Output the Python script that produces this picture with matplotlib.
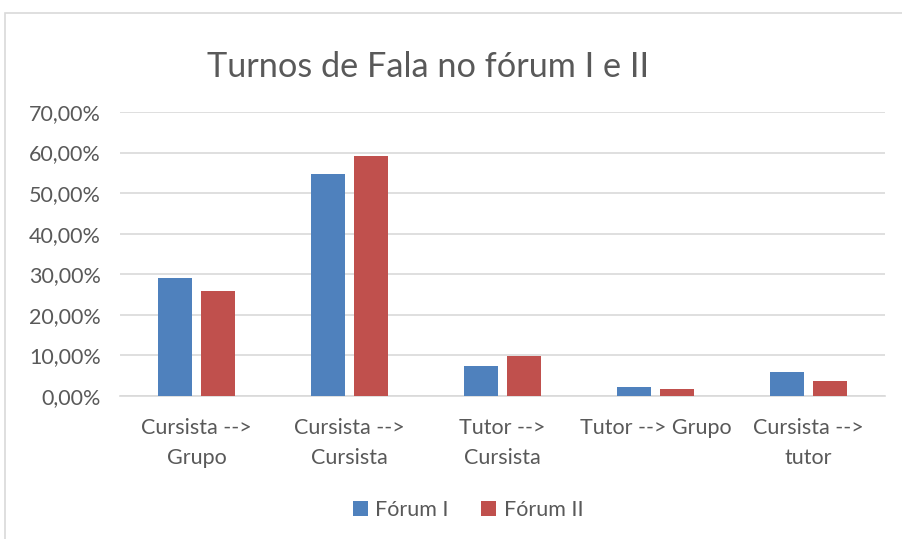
import matplotlib.pyplot as plt
import numpy as np
from matplotlib.patches import Rectangle
from matplotlib.ticker import FuncFormatter

plt.rcParams['font.family'] = ['Lato', 'DejaVu Sans']

categorias = ["Cursista -->\nGrupo", "Cursista -->\nCursista", "Tutor -->\nCursista",
              "Tutor --> Grupo", "Cursista -->\ntutor"]
forum1 = [0.292, 0.547, 0.075, 0.021, 0.060]
forum2 = [0.260, 0.591, 0.099, 0.017, 0.038]

azul = '#4f81bd'
vermelho = '#c0504d'
cinza = '#595959'

fig = plt.figure(figsize=(9.02, 5.39), dpi=100)
ax = fig.add_axes([120/902, 1 - 396/539, 765/902, 284/539])

x = np.arange(len(categorias))
w = 0.222
ax.bar(x - 0.142, forum1, w, color=azul, label='Fórum I', zorder=3)
ax.bar(x + 0.142, forum2, w, color=vermelho, label='Fórum II', zorder=3)

ax.set_xlim(-0.5, len(categorias) - 0.5)
ax.set_ylim(0, 0.7)
ax.set_yticks(np.arange(0, 0.71, 0.1))
ax.yaxis.set_major_formatter(FuncFormatter(lambda v, p: f"{v*100:.2f}%".replace('.', ',')))
ax.set_xticks(x)
ax.set_xticklabels(categorias, linespacing=1.58)
ax.tick_params(length=0, labelsize=15.5, labelcolor=cinza)
ax.tick_params(axis='x', pad=16)
ax.tick_params(axis='y', pad=14)
ax.grid(axis='y', color='#d9d9d9', linewidth=1.2, zorder=0)
for s in ['top', 'right', 'left']:
    ax.spines[s].set_visible(False)
ax.spines['bottom'].set_color('#d9d9d9')
ax.spines['bottom'].set_linewidth(1.2)

fig.text(428/902, 1 - 67/539, 'Turnos de Fala no fórum I e II', ha='center', va='center',
         fontsize=24.7, color=cinza)

fig.legend(loc='center', bbox_to_anchor=(468/902, 1 - 510/539), ncol=2, frameon=False,
           fontsize=15.5, labelcolor=cinza, handlelength=0.7, handleheight=0.7,
           columnspacing=1.5, handletextpad=0.35)

fig.patches.append(Rectangle((5/902, -0.1), 1.1, 1.1 - 13/539, transform=fig.transFigure,
                             fill=False, edgecolor='#d9d9d9', linewidth=1.2))

fig.savefig('out.png', dpi=100, facecolor='white')
